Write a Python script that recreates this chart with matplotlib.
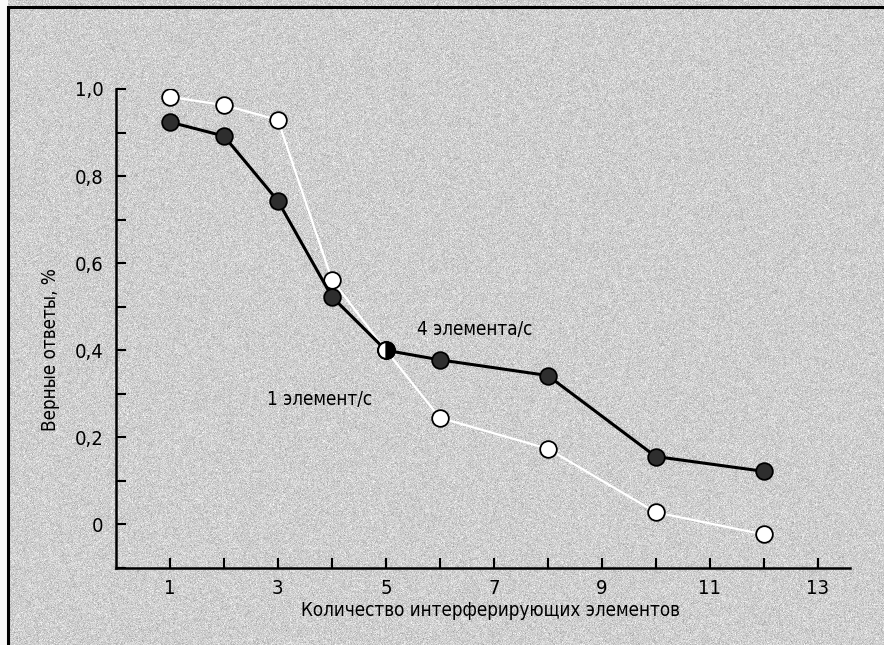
import numpy as np
import matplotlib.pyplot as plt
from matplotlib.patches import Rectangle
from matplotlib.ticker import MultipleLocator, FixedLocator, FuncFormatter

plt.rcParams["font.family"] = ["DejaVu Sans"]
plt.rcParams["font.stretch"] = "condensed"

# Number of interfering items and share of correct answers
n_items = [1, 2, 3, 4, 5, 6, 8, 10, 12]
rate_4 = [0.924, 0.892, 0.743, 0.523, 0.40, 0.378, 0.342, 0.156, 0.122]
rate_1 = [0.982, 0.963, 0.929, 0.562, 0.40, 0.245, 0.174, 0.028, -0.023]

label_4 = "4 элемента/с"
label_1 = "1 элемент/с"
x_title = "Количество интерферирующих элементов"
y_title = "Верные ответы, %"

W, H, DPI = 884, 645, 100
fig = plt.figure(figsize=(W / DPI, H / DPI), dpi=DPI)
fig.patch.set_facecolor("#d2d2d2")

# grainy gray page background
rng = np.random.default_rng(7)
grain = np.clip(0.81 + 0.055 * rng.standard_normal((H, W)), 0, 1)
grain[:, :8] = 0.97
fig.figimage(grain, cmap="gray", vmin=0, vmax=1, zorder=-10)

# frame around the figure (right/bottom edges run off the page)
fig.add_artist(Rectangle((8 / W, -0.1), 1.2, 1.1 - 7 / H, transform=fig.transFigure,
                         fill=False, edgecolor="black", linewidth=2.2))

ax = fig.add_axes([116 / W, (H - 568) / H, (850 - 116) / W, (568 - 89) / H])
ax.set_facecolor("none")
ax.set_xlim(0, 13.6)
ax.set_ylim(-0.1, 1.0)

for side in ("top", "right"):
    ax.spines[side].set_visible(False)
for side in ("left", "bottom"):
    ax.spines[side].set_linewidth(1.8)

ax.xaxis.set_major_locator(FixedLocator(range(1, 14, 2)))
ax.xaxis.set_minor_locator(FixedLocator(range(2, 14, 2)))
ax.yaxis.set_major_locator(FixedLocator([0, 0.2, 0.4, 0.6, 0.8, 1.0]))
ax.yaxis.set_minor_locator(MultipleLocator(0.1))
ax.yaxis.set_major_formatter(FuncFormatter(
    lambda v, _: "0" if abs(v) < 1e-9 else f"{v:.1f}".replace(".", ",")))

ax.tick_params(which="both", direction="in", width=1.5, length=7, labelsize=14.5)
ax.tick_params(axis="y", pad=9)
ax.tick_params(axis="x", pad=8)

# slow rate: white line and open circles
ax.plot(n_items, rate_1, color="white", linewidth=1.6, zorder=2)
ax.plot(n_items, rate_1, linestyle="none", marker="o", markersize=12,
        markerfacecolor="white", markeredgecolor="black", markeredgewidth=1.3, zorder=3)

# fast rate: black line and filled circles
ax.plot(n_items, rate_4, color="black", linewidth=2.2, zorder=4)
ax.plot(n_items, rate_4, linestyle="none", marker="o", markersize=12,
        markerfacecolor="#2e2e2e", markeredgecolor="black", markeredgewidth=1.3, zorder=5)

# shared point where both curves meet
i5 = n_items.index(5)
ax.plot([n_items[i5]], [rate_4[i5]], linestyle="none", marker="o", markersize=12,
        fillstyle="left", markerfacecolor="white", markerfacecoloralt="black",
        markeredgecolor="black", markeredgewidth=1.3, zorder=6)

ax.text(6.64, 0.447, label_4, fontsize=13.5, ha="center", va="center")
ax.text(3.78, 0.287, label_1, fontsize=13.5, ha="center", va="center")

ax.set_xlabel(x_title, fontsize=13.5)
ax.set_ylabel(y_title, fontsize=13.5)
ax.xaxis.set_label_coords(0.51, -0.068)
ax.yaxis.set_label_coords(-0.076, 0.457)

fig.savefig("out.png", dpi=DPI)
